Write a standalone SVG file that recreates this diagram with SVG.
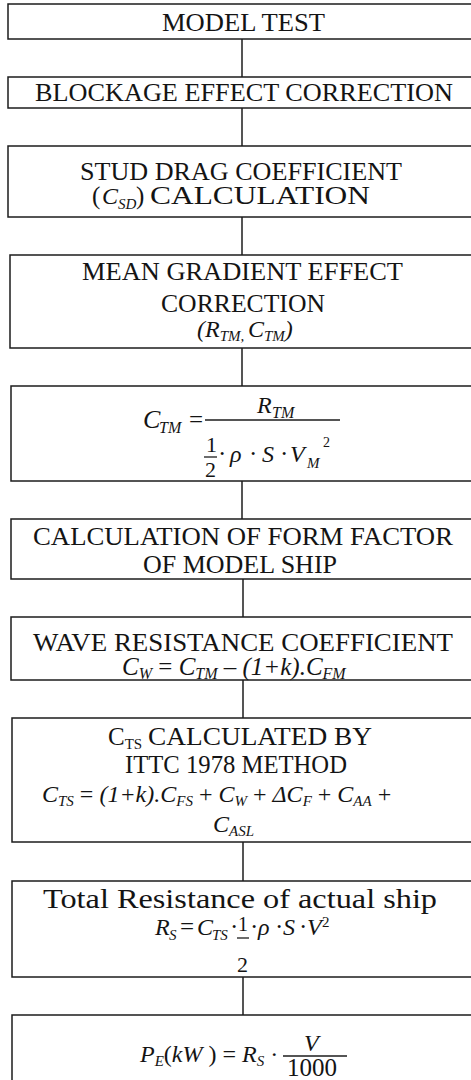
<svg xmlns="http://www.w3.org/2000/svg" width="471" height="1080" viewBox="0 0 471 1080">
<style>
.box{fill:#fff;stroke:#1c1c1c;stroke-width:1.5}
.conn line{stroke:#1c1c1c;stroke-width:1.5}
text{font-family:"Liberation Serif","Times New Roman",serif;fill:#141414}
.t{font-size:25px}
.i{font-style:italic;font-size:24px}
.s{font-style:italic;font-size:15px}
.su{font-size:15px}
.u{font-style:normal}
.fl{stroke:#1c1c1c;stroke-width:1.3}
</style>
<rect width="471" height="1080" fill="#fff"/>
<g id="connectors" class="conn">
<line x1="242" y1="39" x2="242" y2="77"/>
<line x1="242" y1="108" x2="242" y2="146"/>
<line x1="242" y1="217" x2="242" y2="255"/>
<line x1="242" y1="348" x2="242" y2="386"/>
<line x1="242" y1="481" x2="242" y2="519"/>
<line x1="243" y1="579" x2="243" y2="617"/>
<line x1="243" y1="680" x2="243" y2="718"/>
<line x1="243" y1="842" x2="243" y2="881"/>
<line x1="243" y1="977" x2="243" y2="1015"/>
</g>
<g id="n1">
<rect class="box" x="8" y="4" width="480" height="35"/>
<text class="t" x="162" y="31" textLength="163" lengthAdjust="spacingAndGlyphs">MODEL TEST</text>
</g>
<g id="n2">
<rect class="box" x="8" y="77" width="480" height="31"/>
<text class="t" x="35" y="101" textLength="418" lengthAdjust="spacingAndGlyphs">BLOCKAGE EFFECT CORRECTION</text>
</g>
<g id="n3">
<rect class="box" x="8" y="146" width="480" height="71"/>
<text class="t" x="80" y="180" textLength="322" lengthAdjust="spacingAndGlyphs">STUD DRAG COEFFICIENT</text>
<text class="t" x="92" y="204">(</text>
<text class="i" x="102" y="204">C</text>
<text class="s" x="118" y="209">SD</text>
<text class="t" x="136" y="204">)</text>
<text class="t" x="150" y="204" textLength="220" lengthAdjust="spacingAndGlyphs">CALCULATION</text>
</g>
<g id="n4">
<rect class="box" x="10" y="255" width="480" height="93"/>
<text class="t" x="82" y="280" textLength="321" lengthAdjust="spacingAndGlyphs">MEAN GRADIENT EFFECT</text>
<text class="t" x="161" y="312" textLength="164" lengthAdjust="spacingAndGlyphs">CORRECTION</text>
<text class="i" x="197" y="337">(R<tspan class="s" dy="4">TM, </tspan><tspan dy="-4">C</tspan><tspan class="s" dy="4">TM</tspan><tspan dy="-4">)</tspan></text>
</g>
<g id="n5">
<rect class="box" x="11" y="386" width="480" height="95"/>
<text class="i" x="143" y="428" style="font-size:26px">C</text>
<text class="s" x="159" y="433" style="font-size:16px">TM</text>
<text class="t" x="189" y="428">=</text>
<line class="fl" x1="205" y1="420" x2="340" y2="420"/>
<text class="i" x="257" y="413">R</text>
<text class="s" x="272" y="418" style="font-size:16px">TM</text>
<text class="t" x="206" y="452" style="font-size:22px">1</text>
<line class="fl" x1="204" y1="457" x2="217" y2="457"/>
<text class="t" x="205" y="477" style="font-size:22px">2</text>
<text class="t" x="218" y="462">·</text>
<text class="i" x="230" y="462">ρ</text>
<text class="t" x="249" y="462">·</text>
<text class="i" x="262" y="462">S</text>
<text class="t" x="280" y="462">·</text>
<text class="i" x="290" y="462">V</text>
<text class="s" x="307" y="468">M</text>
<text class="su" x="323" y="447" style="font-size:14px">2</text>
</g>
<g id="n6">
<rect class="box" x="11" y="519" width="480" height="60"/>
<text class="t" x="33" y="545" textLength="420" lengthAdjust="spacingAndGlyphs">CALCULATION OF FORM FACTOR</text>
<text class="t" x="143" y="573" textLength="194" lengthAdjust="spacingAndGlyphs">OF MODEL SHIP</text>
</g>
<g id="n7">
<rect class="box" x="11" y="617" width="480" height="63"/>
<text class="t" x="33" y="651" textLength="420" lengthAdjust="spacingAndGlyphs">WAVE RESISTANCE COEFFICIENT</text>
<text class="i" x="122" y="675" style="font-size:25px">C<tspan class="s" dy="4" style="font-size:16px">W</tspan><tspan class="u" dy="-4"> = </tspan>C<tspan class="s" dy="4" style="font-size:16px">TM</tspan><tspan dy="-4"> – (1+k).C</tspan><tspan class="s" dy="4" style="font-size:16px">FM</tspan></text>
</g>
<g id="n8">
<rect class="box" x="12" y="718" width="480" height="124"/>
<text class="t" x="108" y="745">C<tspan class="su" dy="4">TS</tspan></text>
<text class="t" x="148" y="745" textLength="224" lengthAdjust="spacingAndGlyphs">CALCULATED BY</text>
<text class="t" x="125" y="773" textLength="222" lengthAdjust="spacingAndGlyphs">ITTC 1978 METHOD</text>
<text class="i" x="42" y="802">C<tspan class="s" dy="4">TS</tspan><tspan class="u" dy="-4"> = </tspan>(1+k).C<tspan class="s" dy="4">FS</tspan><tspan class="u" dy="-4"> + </tspan>C<tspan class="s" dy="4">W</tspan><tspan class="u" dy="-4"> + </tspan>ΔC<tspan class="s" dy="4">F</tspan><tspan class="u" dy="-4"> + </tspan>C<tspan class="s" dy="4">AA</tspan><tspan class="u" dy="-4"> +</tspan></text>
<text class="i" x="213" y="832">C<tspan class="s" dy="4">ASL</tspan></text>
</g>
<g id="n9">
<rect class="box" x="12" y="881" width="480" height="96"/>
<text class="t" x="43" y="908" style="font-size:28px" textLength="394" lengthAdjust="spacingAndGlyphs">Total Resistance of actual ship</text>
<text class="i" x="155" y="935">R</text>
<text class="s" x="169" y="940">S</text>
<text class="t" x="180" y="935">=</text>
<text class="i" x="197" y="935">C</text>
<text class="s" x="212" y="940">TS</text>
<text class="t" x="230" y="935">·</text>
<text class="t" x="238" y="931" style="font-size:20px">1</text>
<line class="fl" x1="237" y1="938" x2="249" y2="938"/>
<text class="t" x="237" y="972" style="font-size:22px">2</text>
<text class="t" x="250" y="935">·</text>
<text class="i" x="258" y="935">ρ</text>
<text class="t" x="275" y="935">·</text>
<text class="i" x="283" y="935">S</text>
<text class="t" x="299" y="935">·</text>
<text class="i" x="307" y="935">V</text>
<text class="su" x="322" y="927">2</text>
</g>
<g id="n10">
<rect class="box" x="12" y="1015" width="480" height="80"/>
<text class="i" x="140" y="1062">P<tspan class="s" dy="4">E</tspan><tspan class="u" dy="-4">(</tspan>kW<tspan class="u"> ) = </tspan>R<tspan class="s" dy="4">S</tspan><tspan class="u" dy="-4"> ·</tspan></text>
<line class="fl" x1="283" y1="1056" x2="347" y2="1056"/>
<text class="i" x="304" y="1051">V</text>
<text class="t" x="287" y="1076">1000</text>
</g>
</svg>
